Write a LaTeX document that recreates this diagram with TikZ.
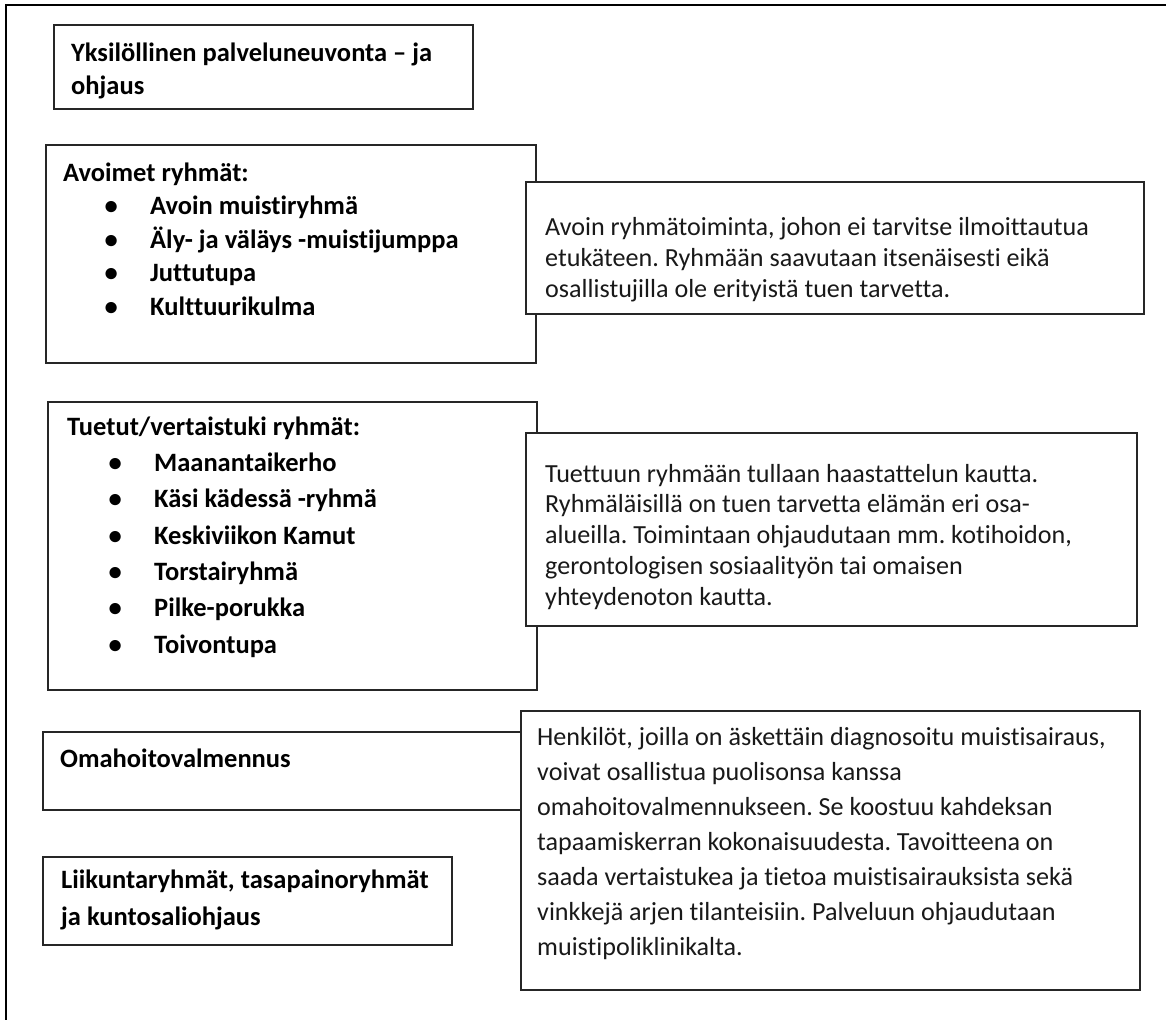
\documentclass[tikz,border=0pt]{standalone}
\usepackage{fontspec}
\setmainfont{Carlito}[Ligatures={NoCommon}]
\frenchspacing
\tikzset{
  kehys/.style={line width=2.6pt},
  laatikko/.style={draw=black!85, line width=1.3pt, fill=white},
  otsikko/.style={anchor=base west, inner sep=0pt, align=left},
  kuvaus/.style={anchor=base west, inner sep=0pt, align=left, text=black!90},
}
% lihavoitu ja tavallinen teksti, rivivälinä #1
\newcommand{\lihava}[1]{\fontsize{26.5}{#1}\selectfont\bfseries}
\newcommand{\tavallinen}[1]{\fontsize{26.1}{#1}\selectfont}
\newcommand{\kohta}{\hspace*{41.5pt}\makebox[45.5pt][l]{\textbullet}}
\begin{document}
\begin{tikzpicture}[x=1pt,y=-1pt]
\useasboundingbox (0,0) rectangle (1171,1020);
% ulkokehys
\draw [kehys] (6,1020) -- (6,5) -- (1166,5);
% vasemman puolen laatikot
\draw [laatikko] (54,25) rectangle (473,109);
\draw [laatikko] (46,145) rectangle (536,363);
\draw [laatikko] (48,402) rectangle (537,690);
\draw [laatikko] (43,732) rectangle (521,810);
\draw [laatikko] (43,857) rectangle (452,945);
% kuvauslaatikot
\draw [laatikko] (526,182) rectangle (1144,314);
\draw [laatikko] (526,433) rectangle (1137,626);
\draw [laatikko] (521,711) rectangle (1140,990);
% tekstit (ankkurina viimeisen rivin perusviiva)
\node [otsikko, font=\lihava{33}] (yksilollinen) at (71,94)
  {Yksilöllinen palveluneuvonta – ja\\ohjaus};
\node [otsikko, font=\lihava{33.5}] (avoimet) at (63,315)
  {Avoimet ryhmät:\\
   \kohta Avoin muistiryhmä\\
   \kohta Äly- ja väläys -muistijumppa\\
   \kohta Juttutupa\\
   \kohta Kulttuurikulma};
\node [kuvaus, font=\tavallinen{30.6}] (avoinkuvaus) at (545,297)
  {Avoin ryhmätoiminta, johon ei tarvitse ilmoittautua\\
   etukäteen. Ryhmään saavutaan itsenäisesti eikä\\
   osallistujilla ole erityistä tuen tarvetta.};
\node [otsikko, font=\lihava{36.3}] (tuetut) at (67,653)
  {Tuetut/vertaistuki ryhmät:\\
   \kohta Maanantaikerho\\
   \kohta Käsi kädessä -ryhmä\\
   \kohta Keskiviikon Kamut\\
   \kohta Torstairyhmä\\
   \kohta Pilke-porukka\\
   \kohta Toivontupa};
\node [kuvaus, font=\tavallinen{30.7}] (tuetutkuvaus) at (545,605)
  {Tuettuun ryhmään tullaan haastattelun kautta.\\
   Ryhmäläisillä on tuen tarvetta elämän eri osa-\\
   alueilla. Toimintaan ohjaudutaan mm. kotihoidon,\\
   gerontologisen sosiaalityön tai omaisen\\
   yhteydenoton kautta.};
\node [otsikko, font=\lihava{33}] (omahoito) at (60,767)
  {Omahoitovalmennus};
\node [otsikko, font=\lihava{37}] (liikunta) at (61,925)
  {Liikuntaryhmät, tasapainoryhmät\\ja kuntosaliohjaus};
\node [kuvaus, font=\tavallinen{35}] (omahoitokuvaus) at (537,955)
  {Henkilöt, joilla on äskettäin diagnosoitu muistisairaus,\\
   voivat osallistua puolisonsa kanssa\\
   omahoitovalmennukseen. Se koostuu kahdeksan\\
   tapaamiskerran kokonaisuudesta. Tavoitteena on\\
   saada vertaistukea ja tietoa muistisairauksista sekä\\
   vinkkejä arjen tilanteisiin. Palveluun ohjaudutaan\\
   muistipoliklinikalta.};
\end{tikzpicture}
\end{document}
